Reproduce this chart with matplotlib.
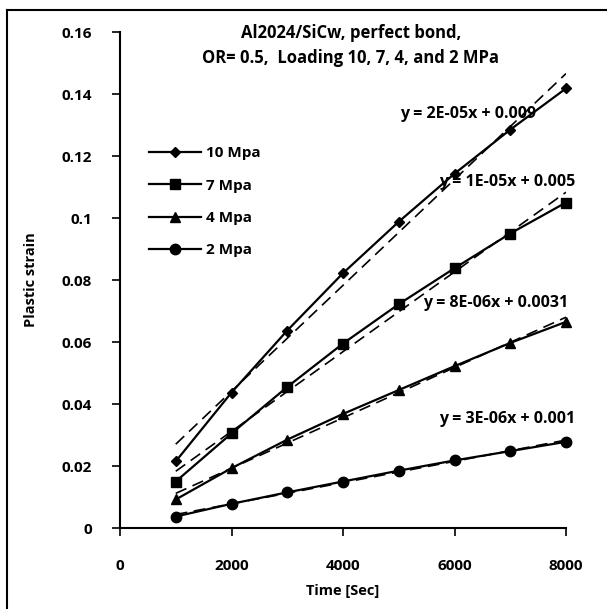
import numpy as np
import matplotlib
matplotlib.use("Agg")
import matplotlib.pyplot as plt
from matplotlib.lines import Line2D

plt.rcParams["font.family"] = ["Open Sans", "DejaVu Sans"]
plt.rcParams["font.weight"] = "bold"

time_sec = [1000, 2000, 3000, 4000, 5000, 6000, 7000, 8000]
strain_10 = [0.0215, 0.0437, 0.0637, 0.0822, 0.0988, 0.1143, 0.1285, 0.1418]
strain_7 = [0.0150, 0.0305, 0.0455, 0.0595, 0.0722, 0.0838, 0.0950, 0.1050]
strain_4 = [0.0092, 0.0193, 0.0285, 0.0368, 0.0445, 0.0522, 0.0597, 0.0665]
strain_2 = [0.0037, 0.0078, 0.0115, 0.0150, 0.0185, 0.0218, 0.0248, 0.0278]

series_labels = ["10 Mpa", "7 Mpa", "4 Mpa", "2 Mpa"]
series_markers = ["D", "s", "^", "o"]
marker_sizes = [5.5, 7.5, 7.5, 7.5]
fit_labels = ["y = 2E-05x + 0.009", "y = 1E-05x + 0.005",
              "y = 8E-06x + 0.0031", "y = 3E-06x + 0.001"]
fit_label_pos = [(6240, 0.1335), (6950, 0.1115), (6730, 0.0725), (6950, 0.0352)]

x_ticks = [0, 2000, 4000, 6000, 8000]
y_ticks = [0, 0.02, 0.04, 0.06, 0.08, 0.1, 0.12, 0.14, 0.16]
y_tick_labels = ["0", "0.02", "0.04", "0.06", "0.08", "0.1", "0.12", "0.14", "0.16"]

fig = plt.figure(figsize=(6.07, 6.09), dpi=100)
ax = fig.add_axes([120 / 607, 1 - 528 / 609, 446 / 607, 496 / 609])

all_series = [strain_10, strain_7, strain_4, strain_2]
for vals, lab, mk, ms in zip(all_series, series_labels, series_markers, marker_sizes):
    ax.plot(time_sec, vals, color="black", lw=1.6, marker=mk, ms=ms, label=lab,
            clip_on=False)
    k, b = np.polyfit(time_sec, vals, 1)
    xf = np.array([time_sec[0], time_sec[-1]])
    ax.plot(xf, k * xf + b, color="black", lw=1.2, ls=(0, (7, 4)))

for txt, (tx, ty) in zip(fit_labels, fit_label_pos):
    ax.text(tx, ty, txt, ha="center", va="center", fontsize=11.5, fontweight="bold")

ax.set_xlim(0, 8000)
ax.set_ylim(0, 0.16)
ax.set_xticks(x_ticks)
ax.set_yticks(y_ticks)
ax.set_yticklabels(y_tick_labels)
ax.spines["top"].set_visible(False)
ax.spines["right"].set_visible(False)
ax.spines["left"].set_linewidth(1.5)
ax.spines["bottom"].set_linewidth(1.5)
ax.tick_params(axis="both", labelsize=11, width=1.2, length=6, direction="out")
ax.tick_params(axis="x", pad=16)
ax.tick_params(axis="y", pad=14)
for lbl in ax.get_xticklabels() + ax.get_yticklabels():
    lbl.set_fontweight("bold")

ax.set_xlabel("Time [Sec]", fontsize=10.5, fontweight="bold", labelpad=8)
ax.set_ylabel("Plastic strain", fontsize=10.5, fontweight="bold", labelpad=17)

handles = [Line2D([], [], color="black", lw=1.6, marker=mk, ms=ms)
           for mk, ms in zip(series_markers, marker_sizes)]
ax.legend(handles, series_labels, loc="upper left", bbox_to_anchor=(0.035, 0.797),
          frameon=False, handlelength=3.4, labelspacing=1.2, handletextpad=0.3,
          prop={"weight": "bold", "size": 11})

fig.text(351 / 607, 1 - 33 / 609, "Al2024/SiCw, perfect bond,", ha="center",
         va="center", fontsize=12, fontweight="bold")
fig.text(351 / 607, 1 - 58 / 609, "OR= 0.5,  Loading 10, 7, 4, and 2 MPa",
         ha="center", va="center", fontsize=12, fontweight="bold")

# cropped outer frame (top and left edges only)
fig.add_artist(Line2D([7 / 607, 1], [1 - 10 / 609, 1 - 10 / 609],
                      transform=fig.transFigure, color="black", lw=1.5))
fig.add_artist(Line2D([7 / 607, 7 / 607], [0, 1 - 10 / 609],
                      transform=fig.transFigure, color="black", lw=1.5))

fig.savefig("out.png", dpi=100)
